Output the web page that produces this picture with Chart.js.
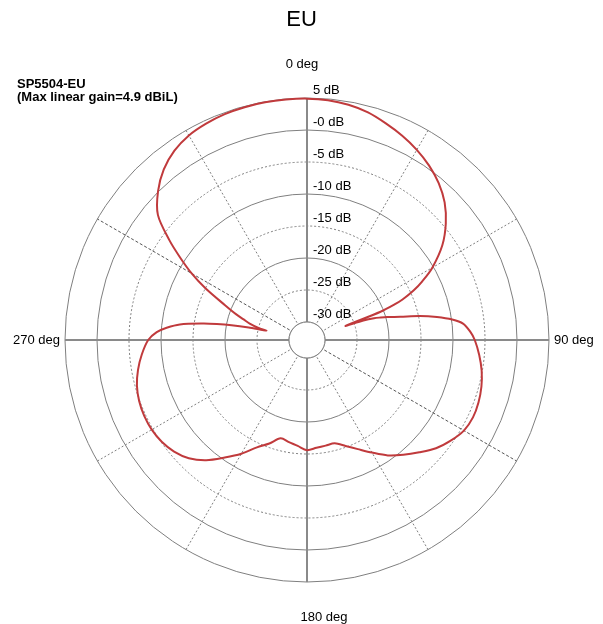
<!DOCTYPE html>
<html><head><meta charset="utf-8">
<script src="https://cdn.jsdelivr.net/npm/chart.js@4"></script>
<style>html,body{margin:0;padding:0;background:#fff}canvas{display:block}</style>
</head><body>
<canvas id="c" width="603" height="624"></canvas>
<script>
const chartTitle = 'EU';
const seriesName = 'SP5504-EU';
const seriesNote = '(Max linear gain=4.9 dBiL)';

// measured pattern (angle in degrees clockwise from 0 deg, gain in dB)
const sampleAngles = [0,5,10,15,20,25,30,35,40,45,50,55,60,63,65,67,68,69,70,71,72,73,74,76,78,80,82,84,87,90,95,100,105,110,115,120,125,130,135,140,145,150,155,160,165,170,175,180,185,190,195,200,205,210,215,220,225,230,235,240,245,250,255,260,265,270,273,275,277,279,280,281,282,283,284,286,288,290,293,297,300,303,306,310,315,320,325,330,335,340,345,350,355];
const gainDb = [4.9,4.8,4.5,4.0,3.2,2.4,1.5,0.45,-0.8,-2.4,-4.5,-7.0,-10.2,-12.6,-14.4,-16.6,-18.2,-20.5,-26.4,-23.5,-21.8,-20.8,-19.8,-17.8,-14.8,-12.2,-9.9,-8.3,-7.3,-6.6,-5.8,-5.1,-4.6,-4.3,-4.2,-4.5,-5.4,-6.5,-8.0,-9.4,-10.8,-12.5,-14.0,-15.2,-16.1,-16.05,-15.9,-15.6,-16.2,-16.6,-16.9,-15.6,-14.3,-12.3,-10.4,-8.3,-6.7,-5.7,-5.1,-4.8,-4.75,-4.9,-5.3,-6.0,-6.9,-8.0,-9.3,-10.8,-12.8,-16.4,-18.5,-20.8,-23.5,-26.3,-25.0,-23.5,-22.4,-21.0,-18.9,-15.0,-12.0,-9.2,-6.2,-2.4,0.1,2.0,3.3,4.1,4.5,4.75,4.85,4.9,4.9];

const tickValues = [-30,-25,-20,-15,-10,-5,0,5];
const tickLabels = ['-30 dB','-25 dB','-20 dB','-15 dB','-10 dB','-5 dB','-0 dB','5 dB'];
const dottedTicks = [-25,-15,-5];
const directionAngles = [0,90,180,270];
const directionLabels = ['0 deg','90 deg','180 deg','270 deg'];

const angleLabels = Array.from({length: 360}, (_, i) => i);
const seriesData = angleLabels.map(a => {
  const k = sampleAngles.indexOf(a);
  return k >= 0 ? gainDb[k] : null;
});

const FONT = "'Liberation Sans', Arial, Helvetica, sans-serif";

const decorPlugin = {
  id: 'decor',
  beforeDatasetsDraw(chart) {
    const s = chart.scales.r, ctx = chart.ctx;
    const r0 = s.getDistanceFromCenterForValue(tickValues[0]);
    ctx.save();
    ctx.beginPath();
    ctx.arc(s.xCenter, s.yCenter, r0, 0, Math.PI * 2);
    ctx.fillStyle = '#ffffff';
    ctx.fill();
    ctx.strokeStyle = '#7f7f7f';
    ctx.lineWidth = 1;
    ctx.stroke();
    ctx.restore();
  },
  afterDraw(chart) {
    const s = chart.scales.r, ctx = chart.ctx;
    ctx.save();
    ctx.fillStyle = '#000';
    ctx.font = '13px ' + FONT;
    ctx.textAlign = 'left';
    ctx.textBaseline = 'alphabetic';
    tickValues.forEach((v, i) => {
      const d = s.getDistanceFromCenterForValue(v);
      ctx.fillText(tickLabels[i], s.xCenter + 6, s.yCenter - d - 4);
    });
    const R = s.getDistanceFromCenterForValue(s.max);
    directionAngles.forEach((a, i) => {
      const p = s.getPointPosition(a, R);
      if (a === 0) { ctx.textAlign = 'center'; ctx.fillText(directionLabels[i], p.x - 5, p.y - 30); }
      else if (a === 90) { ctx.textAlign = 'left'; ctx.fillText(directionLabels[i], p.x + 5, p.y + 4); }
      else if (a === 180) { ctx.textAlign = 'center'; ctx.fillText(directionLabels[i], p.x + 17, p.y + 39); }
      else { ctx.textAlign = 'right'; ctx.fillText(directionLabels[i], p.x - 5, p.y + 4); }
    });
    ctx.textAlign = 'left';
    ctx.font = 'bold 13px ' + FONT;
    ctx.fillText(seriesName, 17, 87.5);
    ctx.fillText(seriesNote, 17, 101);
    ctx.restore();
  }
};

new Chart(document.getElementById('c'), {
  type: 'radar',
  data: {
    labels: angleLabels,
    datasets: [{
      label: seriesName,
      data: seriesData,
      borderColor: '#c03a3c',
      borderWidth: 2,
      pointRadius: 0,
      fill: false,
      spanGaps: true,
      tension: 0.3
    }]
  },
  options: {
    responsive: false,
    animation: false,
    devicePixelRatio: 1,
    layout: { padding: 0 },
    plugins: {
      legend: { display: false },
      tooltip: { enabled: false },
      title: {
        display: true,
        text: chartTitle,
        color: '#000',
        font: { family: FONT, size: 22, weight: 'normal' },
        padding: { top: 7, bottom: 10 }
      }
    },
    scales: {
      r: {
        min: -32.8125,
        max: 5,
        startAngle: 0,
        afterBuildTicks(scale) { scale.ticks = tickValues.map(v => ({ value: v })); },
        afterFit(scale) { scale.xCenter = 307; scale.yCenter = 340; scale.drawingArea = 242; },
        ticks: { display: false },
        pointLabels: { display: false },
        grid: {
          circular: true,
          color: '#7f7f7f',
          lineWidth: 1
        },
        border: {
          dash: (c) => (c.tick && dottedTicks.includes(c.tick.value)) ? [2, 2] : []
        },
        angleLines: {
          color: (c) => c.index % 90 === 0 ? '#8a8a8a'
            : (c.index % 180 === 120 || c.index % 180 === 300 % 180) ? '#555555'
            : (c.index % 30 === 0 ? '#7f7f7f' : 'rgba(0,0,0,0)'),
          lineWidth: (c) => c.index % 90 === 0 ? 2 : (c.index % 30 === 0 ? 1 : 0),
          borderDash: (c) => c.index % 90 === 0 ? [] : (c.index === 120 || c.index === 300 ? [3, 2] : [2, 2])
        }
      }
    }
  },
  plugins: [decorPlugin]
});
</script>
</body></html>
